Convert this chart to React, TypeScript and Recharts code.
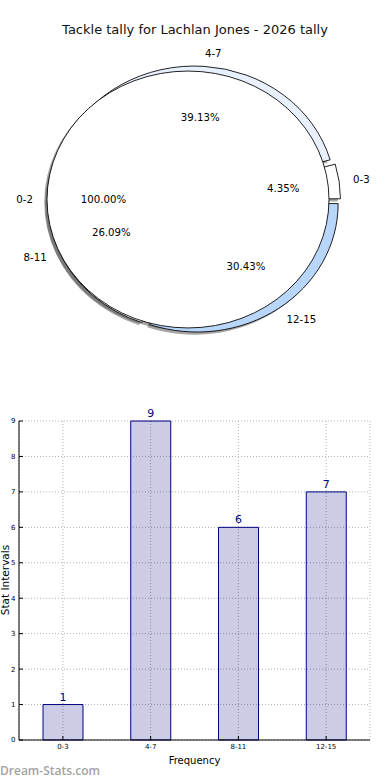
import {
  PieChart, Pie, Cell, Sector, BarChart, Bar, XAxis, YAxis,
  CartesianGrid, LabelList, Label,
} from 'recharts'

const title = 'Tackle tally for Lachlan Jones - 2026 tally'
const categories = ['0-3', '4-7', '8-11', '12-15']
const counts = [1, 9, 6, 7]
const coverCategories = ['0-2']
const coverValues = [1]
const yTicks = [0, 1, 2, 3, 4, 5, 6, 7, 8, 9]

const ringColors = ['#ffffff', '#e8f0fd', '#ffffff', '#b8d6f9']
const FONT = '"DejaVu Sans", sans-serif'

// pie geometry (matplotlib stretched the pie into an ellipse)
const CX = 194
const CY = 199.5
const R = 141
const SY = 0.911
const RING_EXPLODE = 5.5
const COVER_EXPLODE = 6
const SHADOW_DX = -2.8
const SHADOW_DY = 2.6

const ringRows = categories.map((name, i) => ({ name, value: counts[i] }))
const coverRows = coverCategories.map((name, i) => ({ name, value: coverValues[i] }))
const barRows = categories.map((name, i) => ({ name, value: counts[i] }))

function makeShape(explode: number, mode: 'shadow' | 'fill' | 'none') {
  return (p: any) => {
    if (mode === 'none') return <g />
    const rad = (p.midAngle * Math.PI) / 180
    const shadow = mode === 'shadow'
    const dx = explode * Math.cos(rad) + (shadow ? SHADOW_DX : 0)
    const dy = -explode * Math.sin(rad) * SY + (shadow ? SHADOW_DY : 0)
    const full = Math.abs(p.endAngle - p.startAngle) >= 359.9
    const paint = {
      fill: shadow ? '#4d4d4d' : p.fill,
      fillOpacity: shadow ? 0.5 : 1,
      stroke: shadow ? 'none' : '#000',
      strokeWidth: 0.9,
    }
    return (
      <g transform={`translate(${p.cx + dx} ${p.cy + dy}) scale(1 ${SY}) translate(${-p.cx} ${-p.cy})`}>
        {full ? (
          <circle cx={p.cx} cy={p.cy} r={p.outerRadius} {...paint} />
        ) : (
          <Sector
            cx={p.cx}
            cy={p.cy}
            innerRadius={0}
            outerRadius={p.outerRadius}
            startAngle={p.startAngle}
            endAngle={p.endAngle}
            {...paint}
          />
        )}
      </g>
    )
  }
}

function makeLabel(explode: number) {
  return (p: any) => {
    const rad = (p.midAngle * Math.PI) / 180
    const cos = Math.cos(rad)
    const sin = Math.sin(rad)
    const ox = p.cx + explode * cos
    const oy = p.cy - explode * sin * SY
    const r = p.outerRadius
    const name = p.payload?.name ?? p.name
    return (
      <g>
        <text
          x={ox + 1.1 * r * cos}
          y={oy - 1.1 * r * sin * SY}
          textAnchor={cos > 0 ? 'start' : 'end'}
          dominantBaseline="central"
          fontSize={10.2}
          fontFamily={FONT}
          fill="#000"
        >
          {name}
        </text>
        <text
          x={ox + 0.6 * r * cos}
          y={oy - 0.6 * r * sin * SY}
          textAnchor="middle"
          dominantBaseline="central"
          fontSize={10.2}
          fontFamily={FONT}
          fill="#000"
        >
          {(p.percent * 100).toFixed(2)}%
        </text>
      </g>
    )
  }
}

const pieCommon = {
  dataKey: 'value',
  nameKey: 'name',
  cx: CX,
  cy: CY,
  outerRadius: R,
  startAngle: 0,
  endAngle: 360,
  isAnimationActive: false,
  labelLine: false,
}

export default function App() {
  return (
    <div style={{ position: 'absolute', left: 0, top: 0, width: 390, height: 780, background: '#fff', fontFamily: FONT }}>
      <div style={{ position: 'absolute', top: 22, left: 0, width: 390, textAlign: 'center', fontSize: 13, lineHeight: '16px', color: '#111' }}>
        {title}
      </div>
      <div style={{ position: 'absolute', top: 0, left: 0 }}>
        <PieChart width={390} height={380} margin={{ top: 0, right: 0, bottom: 0, left: 0 }}>
          <Pie {...pieCommon} data={ringRows} shape={makeShape(RING_EXPLODE, 'shadow')} activeShape={makeShape(RING_EXPLODE, 'shadow')} />
          <Pie {...pieCommon} data={coverRows} shape={makeShape(COVER_EXPLODE, 'shadow')} activeShape={makeShape(COVER_EXPLODE, 'shadow')} />
          <Pie {...pieCommon} data={ringRows} shape={makeShape(RING_EXPLODE, 'fill')} activeShape={makeShape(RING_EXPLODE, 'fill')}>
            {ringRows.map((row, i) => (
              <Cell key={row.name} fill={ringColors[i]} />
            ))}
          </Pie>
          <Pie {...pieCommon} data={coverRows} shape={makeShape(COVER_EXPLODE, 'fill')} activeShape={makeShape(COVER_EXPLODE, 'fill')} label={makeLabel(COVER_EXPLODE)}>
            <Cell fill="#ffffff" />
          </Pie>
          <Pie {...pieCommon} data={ringRows} shape={makeShape(RING_EXPLODE, 'none')} activeShape={makeShape(RING_EXPLODE, 'none')} label={makeLabel(RING_EXPLODE)} />
        </PieChart>
      </div>
      <div style={{ position: 'absolute', top: 400, left: 0 }}>
        <BarChart width={390} height={380} data={barRows} margin={{ top: 21, right: 20, left: 0, bottom: 0 }} barSize={40}>
          <CartesianGrid stroke="#b0b0b0" strokeDasharray="1 2" />
          <XAxis
            dataKey="name"
            height={40}
            interval={0}
            axisLine={{ stroke: '#000' }}
            tickLine={{ stroke: '#000' }}
            tickSize={-4}
            tickMargin={8.5}
            tick={{ fontSize: 7, fill: '#000', fontFamily: FONT }}
          >
            <Label value="Frequency" position="insideBottom" offset={16} style={{ fontSize: 10, fill: '#000', fontFamily: FONT }} />
          </XAxis>
          <XAxis
            xAxisId="top"
            orientation="top"
            dataKey="name"
            height={0}
            interval={0}
            axisLine={{ stroke: '#000' }}
            tickLine={{ stroke: '#000' }}
            tickSize={-4}
            tick={() => null}
          />
          <YAxis
            width={19}
            domain={[0, 9]}
            ticks={yTicks}
            interval={0}
            axisLine={{ stroke: '#000' }}
            tickLine={{ stroke: '#000' }}
            tickSize={-4}
            tickMargin={7.5}
            tick={{ fontSize: 7, fill: '#000', fontFamily: FONT }}
          >
            <Label
              content={() => (
                <text x={5} y={180} transform="rotate(-90 5 180)" textAnchor="middle" dominantBaseline="central" fontSize={10.5} fontFamily={FONT} fill="#000">
                  Stat Intervals
                </text>
              )}
            />
          </YAxis>
          <YAxis
            yAxisId="r"
            orientation="right"
            width={0}
            domain={[0, 9]}
            ticks={yTicks}
            interval={0}
            axisLine={{ stroke: '#000' }}
            tickLine={{ stroke: '#000' }}
            tickSize={-4}
            tick={() => null}
          />
          <Bar dataKey="value" fill="#000080" fillOpacity={0.2} stroke="#000080" strokeWidth={1} isAnimationActive={false}>
            <LabelList dataKey="value" position="top" offset={4} fill="#000080" fontSize={11} fontFamily={FONT} />
          </Bar>
        </BarChart>
      </div>
      <div style={{ position: 'absolute', top: 762, left: 0, fontFamily: '"Open Sans", sans-serif', fontWeight: 600, fontSize: 12, color: '#a3a3a3' }}>
        Dream-Stats.com
      </div>
    </div>
  )
}
